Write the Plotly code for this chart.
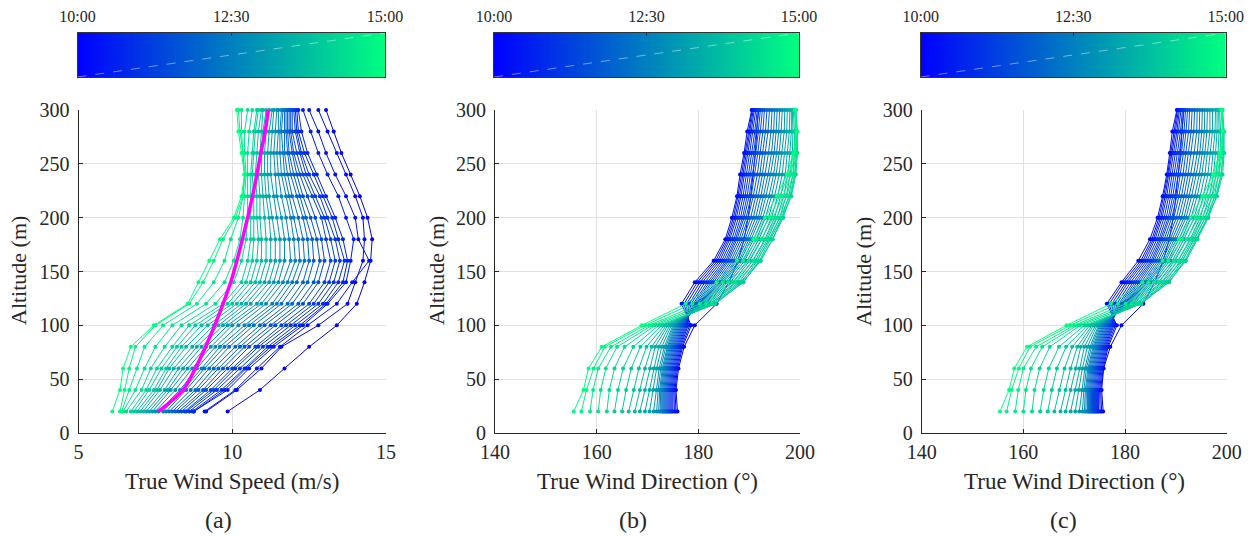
import plotly.graph_objects as go

# ---------------- data ----------------
ALT = [20, 40, 60, 80, 100, 120, 140, 160, 180, 200, 220, 240, 260, 280, 300]
TIME_MIN = [0, 10, 20, 30, 40, 50, 60, 70, 80, 90, 100, 110, 120, 130, 140, 150,
            160, 170, 180, 190, 200, 210, 220, 230, 240, 250, 260, 270, 280, 290, 300]
CBAR_TICKS = [0, 150, 300]
CBAR_LABELS = ["10:00", "12:30", "15:00"]

SPEED = [
    [9.85, 10.9, 11.7, 12.5, 13.4, 14.05, 14.3, 14.5, 14.55, 14.4, 14.15, 13.85, 13.55, 13.3, 13.05],
    [9.15, 10.15, 10.95, 11.6, 12.8, 13.75, 14.0, 14.25, 14.3, 14.25, 14.0, 13.7, 13.4, 13.1, 12.8],
    [9.1, 10.1, 10.8, 11.55, 12.45, 13.4, 13.9, 14.45, 14.1, 14.0, 13.7, 13.35, 13.05, 12.8, 12.5],
    [8.75, 9.85, 10.55, 11.35, 12.3, 13.1, 13.7, 13.85, 13.95, 13.7, 13.45, 13.1, 12.8, 12.55, 12.3],
    [8.75, 9.75, 10.45, 11.25, 12.2, 13.05, 13.6, 13.75, 13.6, 13.35, 13.05, 12.75, 12.45, 12.25, 12.15],
    [8.7, 9.65, 10.4, 11.15, 12.05, 12.95, 13.45, 13.65, 13.45, 13.25, 12.95, 12.65, 12.35, 12.15, 12.1],
    [8.6, 9.5, 10.25, 11.0, 11.9, 12.8, 13.3, 13.5, 13.35, 13.1, 12.85, 12.5, 12.25, 12.1, 12.05],
    [8.5, 9.4, 10.1, 10.85, 11.75, 12.65, 13.15, 13.35, 13.2, 13.0, 12.7, 12.4, 12.2, 12.05, 12.0],
    [8.45, 9.3, 10.0, 10.75, 11.6, 12.5, 13.0, 13.2, 13.05, 12.9, 12.6, 12.3, 12.1, 11.95, 11.95],
    [8.35, 9.15, 9.85, 10.55, 11.4, 12.3, 12.8, 13.0, 12.9, 12.7, 12.45, 12.2, 12.0, 11.9, 11.9],
    [8.25, 9.05, 9.7, 10.4, 11.25, 12.15, 12.65, 12.85, 12.75, 12.55, 12.3, 12.1, 11.95, 11.85, 11.85],
    [8.15, 8.9, 9.55, 10.25, 11.05, 11.95, 12.45, 12.65, 12.6, 12.4, 12.2, 12.0, 11.85, 11.8, 11.8],
    [8.05, 8.8, 9.4, 10.1, 10.9, 11.8, 12.3, 12.5, 12.45, 12.3, 12.1, 11.9, 11.8, 11.75, 11.75],
    [7.95, 8.65, 9.25, 9.9, 10.7, 11.6, 12.1, 12.35, 12.3, 12.15, 11.95, 11.8, 11.7, 11.7, 11.7],
    [7.85, 8.5, 9.1, 9.75, 10.55, 11.45, 11.95, 12.2, 12.15, 12.0, 11.85, 11.7, 11.65, 11.6, 11.65],
    [7.75, 8.4, 9.0, 9.6, 10.4, 11.3, 11.8, 12.05, 12.0, 11.9, 11.75, 11.6, 11.55, 11.55, 11.6],
    [7.6, 8.3, 8.85, 9.45, 10.2, 11.1, 11.65, 11.9, 11.85, 11.75, 11.6, 11.5, 11.45, 11.5, 11.5],
    [7.5, 8.15, 8.7, 9.3, 10.0, 10.95, 11.5, 11.7, 11.7, 11.6, 11.45, 11.4, 11.35, 11.4, 11.45],
    [7.4, 8.0, 8.55, 9.15, 9.85, 10.8, 11.35, 11.55, 11.55, 11.45, 11.35, 11.25, 11.25, 11.3, 11.35],
    [7.3, 7.9, 8.4, 9.0, 9.7, 10.6, 11.2, 11.4, 11.4, 11.3, 11.2, 11.15, 11.15, 11.2, 11.3],
    [7.2, 7.8, 8.25, 8.85, 9.55, 10.45, 11.05, 11.25, 11.25, 11.2, 11.1, 11.05, 11.05, 11.1, 11.2],
    [7.1, 7.65, 8.1, 8.7, 9.4, 10.3, 10.9, 11.1, 11.1, 11.05, 11.0, 10.95, 10.95, 11.0, 11.1],
    [7.0, 7.55, 7.95, 8.5, 9.2, 10.15, 10.75, 10.95, 10.95, 10.9, 10.9, 10.85, 10.9, 10.95, 11.0],
    [6.9, 7.45, 7.85, 8.35, 9.0, 10.0, 10.6, 10.8, 10.85, 10.8, 10.8, 10.75, 10.8, 10.85, 10.95],
    [6.8, 7.3, 7.7, 8.2, 8.8, 9.85, 10.45, 10.65, 10.7, 10.7, 10.7, 10.65, 10.7, 10.75, 10.85],
    [6.7, 7.2, 7.55, 8.05, 8.6, 9.7, 10.3, 10.5, 10.6, 10.6, 10.6, 10.6, 10.65, 10.7, 10.8],
    [6.55, 7.05, 7.35, 7.8, 8.35, 9.45, 10.05, 10.3, 10.45, 10.5, 10.5, 10.5, 10.5, 10.55, 10.65],
    [6.45, 6.85, 7.15, 7.5, 8.05, 9.15, 9.75, 10.05, 10.25, 10.35, 10.4, 10.45, 10.4, 10.4, 10.5],
    [6.4, 6.65, 6.9, 7.15, 7.75, 8.85, 9.4, 9.75, 9.95, 10.2, 10.35, 10.4, 10.35, 10.3, 10.3],
    [6.35, 6.5, 6.65, 6.85, 7.5, 8.6, 9.05, 9.4, 9.7, 10.1, 10.35, 10.4, 10.35, 10.25, 10.2],
    [6.1, 6.35, 6.45, 6.7, 7.45, 8.55, 8.9, 9.25, 9.6, 10.05, 10.3, 10.4, 10.3, 10.2, 10.15],
]
SPEED_MEAN = [7.6, 8.4, 8.8, 9.13, 9.43, 9.7, 9.95, 10.15, 10.33, 10.5, 10.66, 10.8, 10.93, 11.07, 11.17]

DIR_B = [
    [175.9, 175.6, 176.1, 177.2, 179.3, 183.6, 186.0, 187.8, 189.0, 189.8, 190.3, 190.8, 191.2, 191.5, 191.8],
    [175.6, 175.4, 175.9, 176.9, 178.6, 176.7, 179.3, 183.0, 185.3, 186.6, 187.6, 188.2, 189.0, 189.6, 190.5],
    [175.3, 175.2, 175.7, 176.7, 178.3, 177.2, 179.8, 183.4, 185.6, 186.9, 187.8, 188.5, 189.2, 189.9, 190.6],
    [175.0, 175.0, 175.5, 176.5, 178.0, 177.7, 180.3, 183.8, 185.9, 187.2, 188.1, 188.8, 189.5, 190.2, 190.8],
    [174.8, 174.8, 175.3, 176.3, 177.8, 178.2, 180.8, 184.2, 186.2, 187.5, 188.4, 189.1, 189.8, 190.4, 191.0],
    [174.6, 174.6, 175.1, 176.1, 177.6, 178.6, 181.3, 184.6, 186.6, 187.9, 188.8, 189.5, 190.1, 190.7, 191.3],
    [174.4, 174.4, 174.9, 175.9, 177.4, 179.0, 181.8, 185.0, 187.0, 188.3, 189.2, 189.9, 190.5, 191.1, 191.6],
    [174.2, 174.2, 174.7, 175.7, 177.2, 179.3, 182.2, 185.4, 187.3, 188.7, 189.6, 190.3, 190.9, 191.4, 191.9],
    [174.0, 174.0, 174.5, 175.5, 177.0, 179.6, 182.6, 185.7, 187.6, 189.0, 190.0, 190.7, 191.3, 191.8, 192.2],
    [173.8, 173.8, 174.3, 175.3, 176.8, 179.8, 183.0, 186.0, 188.0, 189.4, 190.4, 191.1, 191.7, 192.2, 192.6],
    [173.6, 173.6, 174.1, 175.1, 176.6, 180.0, 183.4, 186.4, 188.4, 189.8, 190.8, 191.6, 192.2, 192.7, 193.0],
    [173.4, 173.4, 173.9, 174.9, 176.4, 180.1, 183.8, 186.8, 188.8, 190.3, 191.3, 192.1, 192.7, 193.2, 193.5],
    [173.2, 173.2, 173.7, 174.7, 176.2, 180.2, 184.1, 187.2, 189.2, 190.8, 191.8, 192.6, 193.2, 193.7, 194.0],
    [173.0, 173.0, 173.5, 174.5, 176.0, 180.3, 184.4, 187.6, 189.6, 191.3, 192.3, 193.1, 193.8, 194.3, 194.5],
    [172.8, 172.8, 173.3, 174.3, 175.8, 180.4, 184.7, 188.0, 190.0, 191.8, 192.8, 193.7, 194.4, 194.8, 195.0],
    [172.5, 172.6, 173.1, 174.1, 175.6, 180.6, 185.0, 188.3, 190.4, 192.2, 193.3, 194.2, 194.9, 195.3, 195.5],
    [172.2, 172.4, 172.9, 173.9, 175.4, 180.8, 185.4, 188.7, 190.9, 192.7, 193.9, 194.8, 195.4, 195.8, 196.0],
    [171.8, 172.1, 172.6, 173.6, 175.2, 181.0, 185.8, 189.1, 191.4, 193.2, 194.4, 195.3, 195.9, 196.3, 196.5],
    [171.2, 171.7, 172.3, 173.3, 175.0, 181.2, 186.3, 189.6, 191.9, 193.8, 195.0, 195.9, 196.4, 196.9, 197.0],
    [170.4, 171.1, 171.8, 172.8, 174.7, 181.5, 186.8, 190.1, 192.5, 194.4, 195.6, 196.5, 197.0, 197.4, 197.5],
    [169.5, 170.4, 171.2, 172.2, 174.4, 181.8, 187.4, 190.7, 193.1, 195.0, 196.2, 197.1, 197.5, 197.9, 198.0],
    [168.5, 169.5, 170.5, 171.5, 174.0, 182.2, 188.0, 191.2, 193.6, 195.5, 196.8, 197.6, 198.0, 198.3, 198.3],
    [167.5, 168.5, 169.5, 170.8, 173.7, 182.6, 188.5, 191.6, 193.9, 196.0, 197.3, 198.1, 198.5, 198.6, 198.5],
    [166.3, 167.3, 168.3, 169.8, 173.3, 183.0, 188.9, 192.0, 194.2, 196.4, 197.8, 198.6, 198.9, 198.9, 198.7],
    [165.0, 165.8, 166.8, 168.6, 172.8, 183.4, 188.7, 192.3, 194.6, 196.7, 198.2, 199.0, 199.3, 199.2, 198.9],
    [163.5, 164.2, 165.2, 167.2, 172.2, 183.3, 188.2, 192.2, 194.6, 196.5, 198.3, 199.2, 199.5, 199.4, 199.1],
    [162.0, 162.5, 163.5, 165.5, 171.5, 182.5, 187.5, 191.5, 194.0, 196.0, 198.0, 198.9, 199.4, 199.5, 199.2],
    [160.3, 160.8, 161.8, 164.0, 170.9, 181.5, 186.8, 190.8, 193.3, 195.4, 197.4, 198.6, 199.2, 199.4, 199.1],
    [158.7, 159.3, 160.3, 162.8, 170.3, 180.3, 185.9, 189.9, 192.4, 194.7, 196.7, 198.2, 199.0, 199.3, 199.1],
    [157.0, 158.0, 159.4, 161.6, 169.5, 178.8, 184.8, 188.8, 191.5, 194.0, 196.0, 197.8, 198.8, 199.3, 199.0],
    [155.5, 157.4, 158.4, 161.0, 168.9, 177.5, 183.6, 187.6, 190.8, 193.1, 195.4, 197.4, 198.7, 199.3, 199.0],
]

DIR_C = [
    [175.7, 175.4, 175.8, 177.1, 179.3, 183.6, 185.8, 187.5, 188.7, 189.5, 190.0, 190.5, 190.9, 191.2, 191.5],
    [175.4, 175.2, 175.7, 176.7, 178.4, 176.4, 179.3, 182.6, 184.9, 186.4, 187.4, 188.2, 188.8, 189.3, 190.2],
    [175.1, 175.0, 175.5, 176.5, 178.1, 176.9, 179.7, 183.1, 185.3, 186.7, 187.6, 188.4, 189.0, 189.6, 190.3],
    [174.8, 174.8, 175.3, 176.3, 177.8, 177.4, 180.2, 183.5, 185.6, 187.0, 187.9, 188.6, 189.3, 189.9, 190.5],
    [174.6, 174.6, 175.1, 176.1, 177.6, 177.9, 180.6, 183.9, 185.9, 187.3, 188.2, 188.9, 189.6, 190.2, 190.7],
    [174.4, 174.4, 174.9, 175.9, 177.4, 178.4, 181.1, 184.3, 186.3, 187.7, 188.6, 189.3, 189.9, 190.5, 191.0],
    [174.2, 174.2, 174.7, 175.7, 177.2, 178.8, 181.6, 184.7, 186.7, 188.1, 189.0, 189.7, 190.3, 190.9, 191.3],
    [174.0, 174.0, 174.5, 175.5, 177.0, 179.1, 182.0, 185.1, 187.0, 188.5, 189.4, 190.1, 190.7, 191.2, 191.6],
    [173.8, 173.8, 174.3, 175.3, 176.8, 179.4, 182.4, 185.4, 187.3, 188.8, 189.8, 190.5, 191.1, 191.6, 191.9],
    [173.6, 173.6, 174.1, 175.1, 176.6, 179.6, 182.8, 185.7, 187.7, 189.2, 190.2, 190.9, 191.5, 192.0, 192.3],
    [173.4, 173.4, 173.9, 174.9, 176.4, 179.8, 183.2, 186.1, 188.1, 189.6, 190.6, 191.4, 192.0, 192.5, 192.7],
    [173.2, 173.2, 173.7, 174.7, 176.2, 179.9, 183.6, 186.5, 188.5, 190.1, 191.1, 191.9, 192.5, 193.0, 193.2],
    [173.0, 173.0, 173.5, 174.5, 176.0, 180.0, 183.9, 186.9, 188.9, 190.6, 191.6, 192.4, 193.0, 193.5, 193.7],
    [172.8, 172.8, 173.3, 174.3, 175.8, 180.1, 184.2, 187.3, 189.3, 191.1, 192.1, 192.9, 193.6, 194.1, 194.2],
    [172.6, 172.6, 173.1, 174.1, 175.6, 180.2, 184.5, 187.7, 189.7, 191.6, 192.6, 193.5, 194.2, 194.6, 194.7],
    [172.3, 172.4, 172.9, 173.9, 175.4, 180.4, 184.8, 188.0, 190.1, 192.0, 193.1, 194.0, 194.7, 195.1, 195.2],
    [172.0, 172.2, 172.7, 173.7, 175.2, 180.6, 185.2, 188.4, 190.6, 192.5, 193.7, 194.6, 195.2, 195.6, 195.7],
    [171.6, 171.9, 172.4, 173.4, 175.0, 180.8, 185.6, 188.8, 191.1, 193.0, 194.2, 195.1, 195.7, 196.1, 196.2],
    [171.0, 171.5, 172.1, 173.1, 174.8, 181.0, 186.1, 189.3, 191.6, 193.6, 194.8, 195.7, 196.2, 196.7, 196.7],
    [170.2, 170.9, 171.6, 172.6, 174.5, 181.3, 186.6, 189.8, 192.2, 194.2, 195.4, 196.3, 196.8, 197.2, 197.2],
    [169.3, 170.2, 171.0, 172.0, 174.2, 181.6, 187.2, 190.4, 192.8, 194.8, 196.0, 196.9, 197.3, 197.7, 197.8],
    [168.3, 169.3, 170.3, 171.3, 173.8, 182.0, 187.8, 190.9, 193.3, 195.3, 196.6, 197.4, 197.8, 198.1, 198.1],
    [167.3, 168.3, 169.3, 170.6, 173.5, 182.4, 188.3, 191.3, 193.6, 195.8, 197.1, 197.9, 198.3, 198.5, 198.4],
    [166.1, 167.1, 168.1, 169.6, 173.1, 182.8, 188.7, 191.7, 193.9, 196.2, 197.6, 198.4, 198.8, 198.8, 198.6],
    [164.8, 165.6, 166.6, 168.4, 172.6, 183.2, 188.5, 192.0, 194.2, 196.4, 198.0, 198.9, 199.3, 199.2, 198.9],
    [163.3, 164.0, 165.0, 167.0, 172.0, 183.1, 188.0, 191.9, 194.2, 196.2, 198.1, 199.2, 199.5, 199.4, 199.1],
    [161.7, 162.2, 163.2, 165.2, 171.2, 182.3, 187.3, 191.2, 193.7, 195.8, 197.8, 198.9, 199.4, 199.5, 199.2],
    [160.0, 160.5, 161.5, 163.7, 170.6, 181.3, 186.6, 190.5, 193.0, 195.2, 197.2, 198.5, 199.1, 199.4, 199.1],
    [158.4, 159.0, 160.0, 162.5, 170.0, 180.1, 185.7, 189.6, 192.1, 194.5, 196.5, 198.1, 198.9, 199.3, 199.1],
    [156.7, 157.7, 159.1, 161.3, 169.2, 178.6, 184.6, 188.5, 191.2, 193.8, 195.8, 197.7, 198.7, 199.2, 199.0],
    [155.4, 157.2, 158.2, 160.7, 168.5, 177.2, 183.4, 187.4, 190.6, 192.9, 195.2, 197.3, 198.6, 199.2, 199.0],
]

# ---------------- styling ----------------
W, H = 1258, 537
FONT = "Liberation Serif"
TXT = "#262626"
GRID = "#e0e0e0"
C0 = (0, 0, 255)
C1 = (0, 255, 128)


def tcolor(t):
    return "rgb(%d,%d,%d)" % tuple(round(a + (b - a) * t) for a, b in zip(C0, C1))


def px(xp):
    return xp / W


def py(yp):
    return 1 - yp / H


panels = [
    dict(data=SPEED, xr=[5, 15], xt=[5, 10, 15], x0=78.5, x1=386, title="True Wind Speed (m/s)", lab="(a)", labx=218, ytx=18),
    dict(data=DIR_B, xr=[140, 200], xt=[140, 160, 180, 200], x0=495, x1=800, title="True Wind Direction (°)", lab="(b)", labx=633, ytx=436),
    dict(data=DIR_C, xr=[140, 200], xt=[140, 160, 180, 200], x0=921.7, x1=1226.7, title="True Wind Direction (°)", lab="(c)", labx=1063, ytx=863),
]

fig = go.Figure()
layout = dict(
    width=W, height=H, margin=dict(l=0, r=0, t=0, b=0, autoexpand=False),
    paper_bgcolor="white", plot_bgcolor="white", showlegend=False,
    font=dict(family=FONT, color=TXT, size=20),
)
annotations = []
shapes = []

PLOT_TOP, PLOT_BOT = 110, 433
CB_TOP, CB_BOT = 33, 77

cb_x = [i * 2 for i in range(151)]  # colour-ramp samples across 10:00-15:00 (minutes)

for i, p in enumerate(panels):
    ax_n = i + 1          # main axes 1..3
    cb_n = i + 4          # colourbar axes 4..6
    xa = "x" if ax_n == 1 else "x%d" % ax_n
    ya = "y" if ax_n == 1 else "y%d" % ax_n
    for k, prof in enumerate(p["data"]):
        t = TIME_MIN[k] / TIME_MIN[-1]
        col = tcolor(t)
        fig.add_trace(go.Scatter(
            x=prof, y=ALT, mode="lines+markers", xaxis=xa, yaxis=ya,
            line=dict(color=col, width=1), marker=dict(color=col, size=4),
            cliponaxis=False, hoverinfo="skip",
        ))
    if i == 0:
        fig.add_trace(go.Scatter(
            x=SPEED_MEAN, y=ALT, mode="lines", xaxis=xa, yaxis=ya,
            line=dict(color="#ff00ff", width=3.5, shape="spline"), hoverinfo="skip",
        ))
    axkey = "xaxis" if ax_n == 1 else "xaxis%d" % ax_n
    aykey = "yaxis" if ax_n == 1 else "yaxis%d" % ax_n
    layout[axkey] = dict(
        domain=[px(p["x0"]), px(p["x1"])], anchor=ya, range=p["xr"], tickvals=p["xt"],
        ticks="inside", ticklen=4, tickcolor=TXT, showline=True, linecolor=TXT, linewidth=1,
        showgrid=True, gridcolor=GRID, gridwidth=1, zeroline=False, automargin=False,
        ticklabelstandoff=1, tickfont=dict(family=FONT, size=20, color=TXT),
    )
    layout[aykey] = dict(
        domain=[py(PLOT_BOT), py(PLOT_TOP)], anchor=xa, range=[0, 300], tickvals=[0, 50, 100, 150, 200, 250, 300],
        ticks="inside", ticklen=4, tickcolor=TXT, showline=True, linecolor=TXT, linewidth=1,
        showgrid=True, gridcolor=GRID, gridwidth=1, zeroline=False, automargin=False,
        ticklabelstandoff=4, tickfont=dict(family=FONT, size=20, color=TXT),
    )
    # colour bar as a heatmap strip
    cxa = "x%d" % cb_n
    cya = "y%d" % cb_n
    fig.add_trace(go.Heatmap(
        z=[cb_x], x=cb_x, y=[0.5], xaxis=cxa, yaxis=cya,
        colorscale=[[0, tcolor(0)], [1, tcolor(1)]], zmin=0, zmax=300,
        showscale=False, hoverinfo="skip",
    ))
    layout["xaxis%d" % cb_n] = dict(
        domain=[px(p["x0"] - 1), px(p["x1"] - 1)], anchor=cya, range=[0, 300], side="top",
        tickvals=CBAR_TICKS, ticktext=CBAR_LABELS, ticks="inside", ticklen=3, tickcolor="#333333",
        showline=True, mirror=True, linecolor="#333333", linewidth=1, showgrid=False, zeroline=False,
        automargin=False, ticklabelstandoff=4, tickfont=dict(family=FONT, size=16, color=TXT),
    )
    layout["yaxis%d" % cb_n] = dict(
        domain=[py(CB_BOT), py(CB_TOP)], anchor=cxa, range=[0, 1], showticklabels=False,
        ticks="", showline=True, mirror=True, linecolor="#333333", linewidth=1, showgrid=False,
        zeroline=False, automargin=False,
    )
    shapes.append(dict(type="line", xref=cxa, yref=cya, x0=0, y0=0, x1=300, y1=1,
                       line=dict(color="rgba(255,255,255,0.45)", width=1, dash="dash")))
    # axis titles and panel labels
    annotations.append(dict(text=p["title"], x=px((p["x0"] + p["x1"]) / 2), y=py(481), xref="paper", yref="paper",
                            showarrow=False, font=dict(family=FONT, size=23, color=TXT), xanchor="center", yanchor="middle"))
    annotations.append(dict(text="Altitude (m)", x=px(p["ytx"]), y=py(271), xref="paper", yref="paper", textangle=-90,
                            showarrow=False, font=dict(family=FONT, size=22, color=TXT), xanchor="center", yanchor="middle"))
    annotations.append(dict(text=p["lab"], x=px(p["labx"]), y=py(520), xref="paper", yref="paper",
                            showarrow=False, font=dict(family=FONT, size=24, color=TXT), xanchor="center", yanchor="middle"))

layout["annotations"] = annotations
layout["shapes"] = shapes
fig.update_layout(**layout)
fig.write_html(
    "out.html",
    config={"displayModeBar": False, "staticPlot": True},
    post_script="document.body.style.margin='0px';document.body.style.overflow='hidden';",
)
